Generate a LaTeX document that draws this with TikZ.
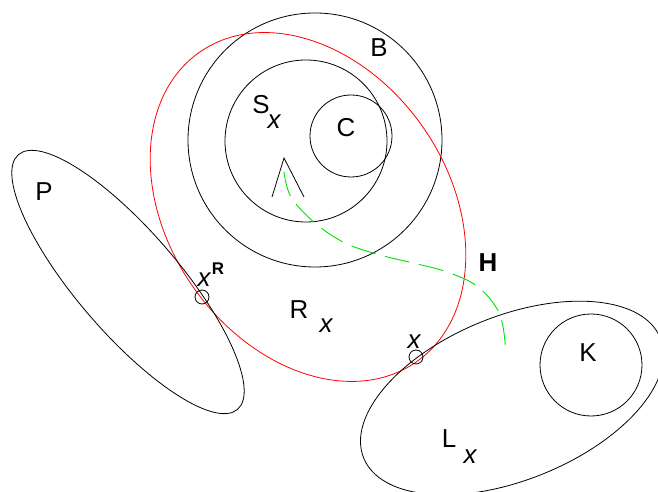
\documentclass[tikz,border=0pt]{standalone}
\usepackage{fontspec}
\setmainfont{Liberation Sans}
\usetikzlibrary{calc}

\definecolor{hgreen}{RGB}{0,225,0}

\begin{document}
\begin{tikzpicture}[x=1bp, y=1bp, font=\fontsize{26}{28}\selectfont]
    \clip (0,0) rectangle (658,492);

    % 1. Kreise B, S und C
    \draw[line width=0.8bp] (315,352) circle[radius=127];
    \draw[line width=0.8bp] (306,351) circle[radius=81];
    \draw[line width=0.8bp] (351,356) circle[radius=41];
    \node (lblB) at (379,444) {B};
    \node (lblS) at (261,387) {S};
    \node (lblSx) at (274,370) {\itshape x};
    \node (lblC) at (346,364) {C};

    % 2. Spitze in S
    \draw[line width=0.8bp] (272,295) -- (284,334) -- (304,295);

    % 3. Ellipse R (rot)
    \draw[red, line width=0.8bp, rotate around={-55:(308,285)}] (308,285) ellipse[x radius=189, y radius=140];
    \node (lblR) at (299,182) {R};
    \node (lblRx) at (326,166) {\itshape x};

    % 4. Ellipse P
    \draw[line width=0.8bp, rotate around={-49.3:(128,210)}] (128,210) ellipse[x radius=168, y radius=51];
    \node (lblP) at (44,300) {P};

    % 5. Ellipse L und Kreis K
    \draw[line width=0.8bp, rotate around={22:(512,94)}] (512,94) ellipse[x radius=160, y radius=82];
    \draw[line width=0.8bp] (591,127) circle[radius=51];
    \node (lblK) at (588,139) {K};
    \node (lblL) at (449,53) {L};
    \node (lblLx) at (470,35) {\itshape x};

    % 6. Schnittpunkte
    \draw[line width=0.8bp] (202,195) circle[radius=7];
    \draw[line width=0.8bp] (416,135) circle[radius=7];
    \node (lblxR) at (204,212) {\itshape x};
    \node (lblxRsup) at (218,223) {\fontsize{17}{19}\selectfont\bfseries R};
    \node (lblxL) at (414,150) {\itshape x};

    % 7. Weg H (gruen, gestrichelt)
    \draw[hgreen, line width=0.9bp, dash pattern=on 25bp off 10bp]
      plot[smooth, tension=0.6] coordinates {(284,320) (291,295) (315,269) (345,249) (380,237)
        (413,229) (447,220) (478,205) (500,177) (506,137)};
    \node (lblH) at (488,229) {\bfseries H};

\end{tikzpicture}
\end{document}
